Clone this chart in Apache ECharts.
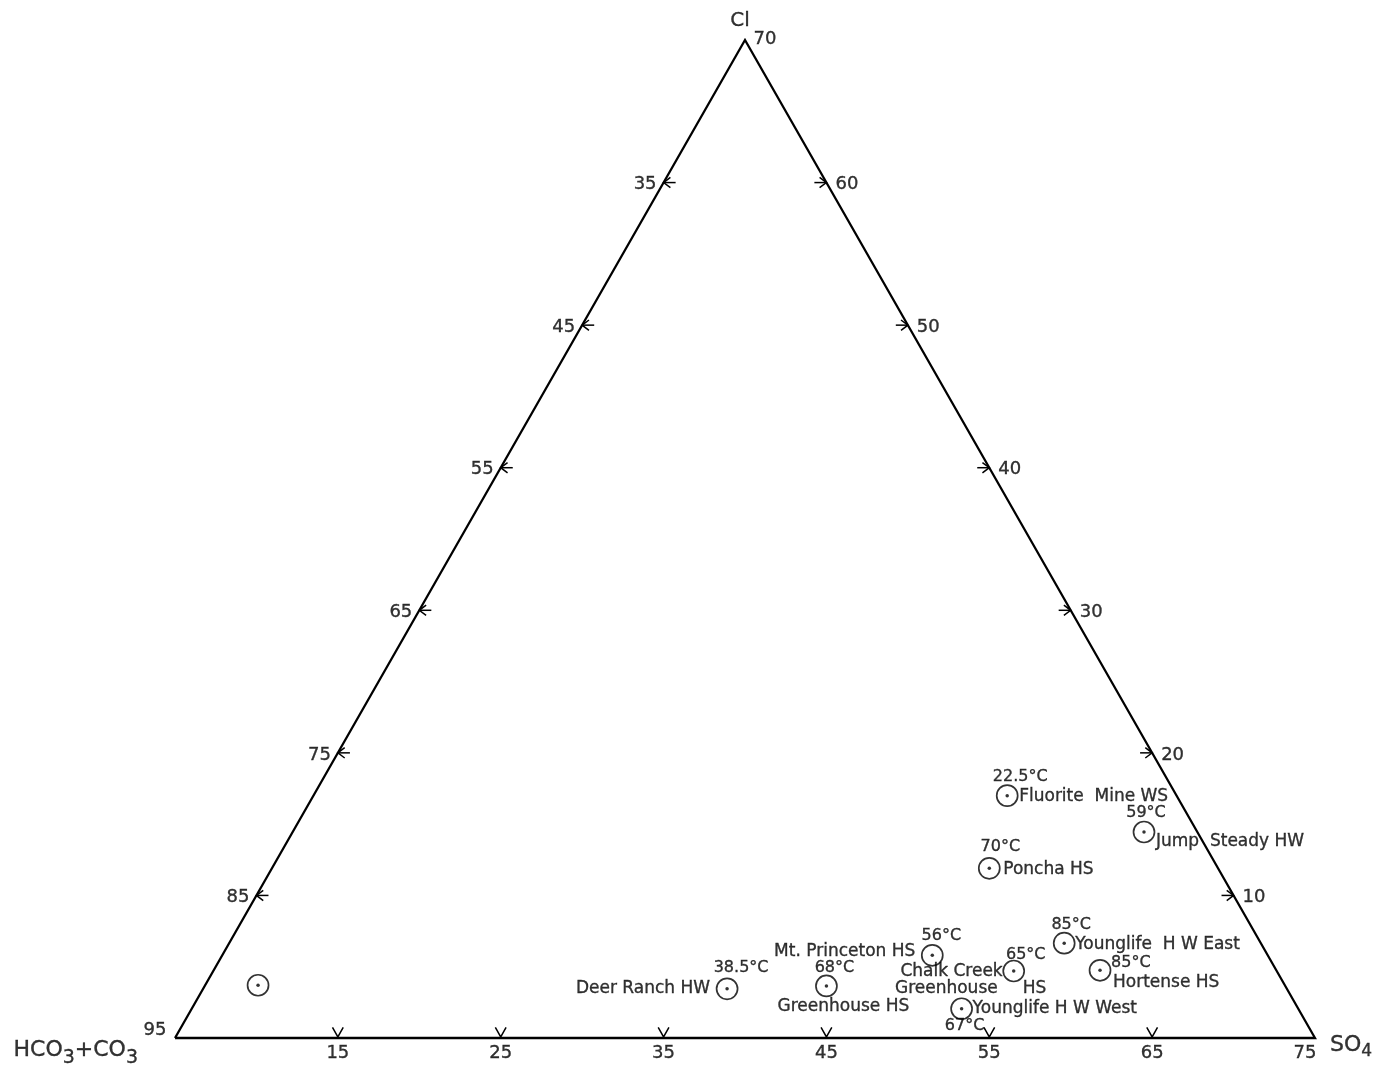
<!DOCTYPE html>
<html><head><meta charset="utf-8">
<script src="https://cdn.jsdelivr.net/npm/echarts@6/dist/echarts.min.js"></script>
<style>html,body{margin:0;padding:0;background:#fff}#c{width:1387px;height:1066px}</style>
</head><body><div id="c"></div>
<script>
// ---- data ----
const stations = ['Deer Ranch HW','Greenhouse HS','Mt. Princeton HS','Chalk Creek|Greenhouse|HS','Younglife H W West','Younglife  H W East','Hortense HS','Poncha HS','Fluorite  Mine WS','Jump  Steady HW',''];
const temps = ['38.5°C','68°C','56°C','65°C','67°C','85°C','85°C','70°C','22.5°C','59°C',''];
// position along the bottom (HCO3+CO3 → SO4) scale
const bottomPos = [38.9, 45.0, 51.5, 56.5, 53.3, 59.6, 61.8, 55.0, 56.1, 64.5, 10.1];
// position on the Cl (right-hand) scale
const clPos = [3.45, 3.65, 5.8, 4.7, 2.05, 6.65, 4.75, 11.9, 17.0, 14.45, 3.7];
const bottomTicks = [15,25,35,45,55,65];
const leftTicks = [85,75,65,55,45,35];
const rightTicks = [10,20,30,40,50,60];
const cornerLeftTick = '95', cornerRightTick = '75', cornerTopTick = '70';
const apexLabels = {left:'{a|HCO}{b|3}{a|+CO}{b|3}', right:'{a|SO}{c|4}', top:'Cl'};

// ---- geometry of the diagram (scale units) ----
const X0 = 5, X1 = 75, H = 70;          // bottom scale 5..75, Cl scale 0..70
const leftEdge = h => X0 + h / 2;
const rightEdge = h => X1 - h / 2;

// label layout relative to each circle (px): [dx, dy, align]
const labelLayout = [
  {t:[14,-21,'center'], n:[[-17,0,'right']]},
  {t:[8,-18,'center'],  n:[[17,21,'center']]},
  {t:[9,-19,'center'],  n:[[-17,-4,'right']]},
  {t:[12,-16,'center'], n:[[-11,1,'right'],[-16,18,'right'],[9,18,'left']]},
  {t:[3,17,'center'],   n:[[11,0,'left']]},
  {t:[7,-18,'center'],  n:[[11,1,'left']]},
  {t:[11,-7,'left'],    n:[[13,12,'left']]},
  {t:[11,-21,'center'], n:[[14,1,'left']]},
  {t:[13,-19,'center'], n:[[12,1,'left']]},
  {t:[2,-19,'center'],  n:[[12,10,'left']]},
  {t:[0,0,'center'],    n:[]}
];

const FONT = 'DejaVu Sans';
const INK = '#000';
const thick = {textBorderColor:'#000', textBorderWidth:0.35};

// tick marks
const tickLines = [];
const tickLabelData = [];
const dx = 0.74, ax = 0.42, ay = 0.36;
leftTicks.forEach(v => {
  const h = 95 - v, x = leftEdge(h);
  tickLines.push({coords:[[x,h],[x+dx,h]]});
  tickLines.push({coords:[[x+ax,h+ay],[x,h],[x+ax,h-ay]]});
  tickLabelData.push({value:[x,h], label:{formatter:String(v), align:'right', offset:[-7,2]}});
});
rightTicks.forEach(v => {
  const h = v, x = rightEdge(h);
  tickLines.push({coords:[[x-dx,h],[x,h]]});
  tickLines.push({coords:[[x-ax,h+ay],[x,h],[x-ax,h-ay]]});
  tickLabelData.push({value:[x,h], label:{formatter:String(v), align:'left', offset:[9,2]}});
});
bottomTicks.forEach(v => {
  tickLines.push({coords:[[v-0.33,0.75],[v,0.08],[v+0.33,0.75]]});
  tickLabelData.push({value:[v,0], label:{formatter:String(v), align:'center', offset:[0,15]}});
});
tickLabelData.push({value:[X0,0], label:{formatter:cornerLeftTick, align:'center', offset:[-20,-8]}});
tickLabelData.push({value:[X1,0], label:{formatter:cornerRightTick, align:'center', offset:[-10,15]}});
tickLabelData.push({value:[(X0+X1)/2,H], label:{formatter:cornerTopTick, align:'center', offset:[20,-1]}});

const apexData = [
  {value:[X0,0], label:{formatter:apexLabels.left, align:'right', offset:[-37,16]}},
  {value:[X1,0], label:{formatter:apexLabels.right, align:'left', offset:[15,11]}},
  {value:[(X0+X1)/2,H], label:{formatter:apexLabels.top, align:'center', offset:[-5,-19]}}
];

const pointData = [], textData = [];
stations.forEach((name, i) => {
  const p = [bottomPos[i], clPos[i]];
  pointData.push(p);
  const lay = labelLayout[i];
  if (temps[i]) textData.push({value:p, label:{formatter:temps[i], align:lay.t[2], offset:[lay.t[0],lay.t[1]]}});
  const pieces = name ? name.split('|') : [];
  pieces.forEach((s, k) => {
    const l = lay.n[k];
    textData.push({value:p, label:{formatter:s, align:l[2], offset:[l[0],l[1]], fontSize:17}});
  });
});

const chart = echarts.init(document.getElementById('c'));
chart.setOption({
  animation:false,
  backgroundColor:'#fff',
  grid:{left:175, right:72, top:40, bottom:28},
  xAxis:{type:'value', min:X0, max:X1, show:false},
  yAxis:{type:'value', min:0, max:H, show:false},
  series:[
    {type:'lines', coordinateSystem:'cartesian2d', polyline:true, clip:false, silent:true,
     lineStyle:{color:INK, width:2.3, opacity:1},
     data:[{coords:[[X0,0],[X1,0],[(X0+X1)/2,H],[X0,0]]}]},
    {type:'lines', coordinateSystem:'cartesian2d', polyline:true, clip:false, silent:true,
     lineStyle:{color:INK, width:1.5, opacity:1}, data:tickLines},
    {type:'scatter', clip:false, silent:true, symbol:'circle', symbolSize:21,
     itemStyle:{color:'rgba(0,0,0,0)', borderColor:INK, borderWidth:1.7}, data:pointData},
    {type:'scatter', clip:false, silent:true, symbol:'circle', symbolSize:3.5,
     itemStyle:{color:INK}, data:pointData},
    {type:'scatter', clip:false, silent:true, symbolSize:1, itemStyle:{color:'rgba(0,0,0,0)'},
     label:Object.assign({show:true, position:'inside', verticalAlign:'middle', color:INK, fontFamily:FONT, fontSize:16}, thick),
     data:textData},
    {type:'scatter', clip:false, silent:true, symbolSize:1, itemStyle:{color:'rgba(0,0,0,0)'},
     label:Object.assign({show:true, position:'inside', verticalAlign:'middle', color:INK, fontFamily:FONT, fontSize:18}, thick),
     data:tickLabelData},
    {type:'scatter', clip:false, silent:true, symbolSize:1, itemStyle:{color:'rgba(0,0,0,0)'},
     label:Object.assign({show:true, position:'inside', verticalAlign:'middle', color:INK, fontFamily:FONT, fontSize:20,
       rich:{
         a:Object.assign({fontFamily:FONT, fontSize:22, color:INK, padding:[0,0,8,0]}, thick),
         b:Object.assign({fontFamily:FONT, fontSize:19, color:INK, padding:[8,0,0,0]}, thick),
         c:Object.assign({fontFamily:FONT, fontSize:17, color:INK, padding:[6,0,0,0]}, thick)
       }}, thick),
     data:apexData}
  ]
});
</script></body></html>
